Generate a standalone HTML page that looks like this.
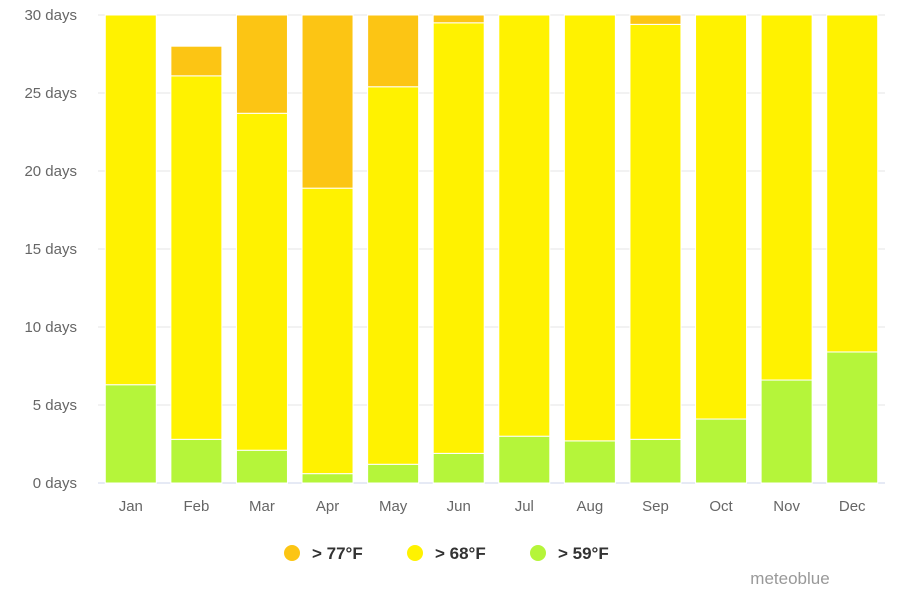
<!DOCTYPE html>
<html><head><meta charset="utf-8"><style>
body{margin:0;background:#fff;font-family:"Liberation Sans",sans-serif;}
</style></head><body>
<svg width="900" height="600" xmlns="http://www.w3.org/2000/svg" id="chart">
<g id="grid"></g>
<g id="bars"></g>
<g id="yaxis"></g>
<g id="xaxis"></g>
<g font-size="17" font-weight="bold" fill="#333">
 <g><circle cx="292" cy="553" r="8" fill="#fcc514"/><text x="312" y="559" fill="#333">&gt; 77°F</text></g>
 <g><circle cx="415" cy="553" r="8" fill="#fff200"/><text x="435" y="559" fill="#333">&gt; 68°F</text></g>
 <g><circle cx="538" cy="553" r="8" fill="#b5f53a"/><text x="558" y="559" fill="#333">&gt; 59°F</text></g>
</g>
<text x="790" y="584" font-size="17" fill="#999" text-anchor="middle">meteoblue</text>
</svg>
<script>
const categories=["Jan","Feb","Mar","Apr","May","Jun","Jul","Aug","Sep","Oct","Nov","Dec"];
const green=[6.3,2.8,2.1,0.6,1.2,1.9,3.0,2.7,2.8,4.1,6.6,8.4];
const yellow=[24.7,23.3,21.6,18.3,24.2,27.6,28.0,28.3,26.6,26.9,23.4,22.6];
const orange=[0,1.9,7.3,11.1,5.6,0.5,0,0,0.6,0,0,0];
const yTicks=[0,5,10,15,20,25,30];
const NS="http://www.w3.org/2000/svg";
const x0=98,x1=885,y0=483,yMax=30,yTop=15;
const band=(x1-x0)/categories.length,bw=51;
function y(v){return y0-(Math.min(v,yMax)/yMax)*(y0-yTop);}
function bx(i){return x0+band*i+(band-bw)/2;}
function mk(tag,attrs,parent){const e=document.createElementNS(NS,tag);for(const k in attrs)e.setAttribute(k,attrs[k]);parent.appendChild(e);return e;}
const grid=document.getElementById('grid'),bars=document.getElementById('bars'),ya=document.getElementById('yaxis'),xa=document.getElementById('xaxis');
yTicks.forEach(t=>{
 const l=mk('line',{x1:x0,x2:x1,y1:y(t),y2:y(t),stroke:t===0?'#ccd6eb':'#e6e6e6','stroke-width':1},grid);
 
 
 const tx=mk('text',{x:77,y:y(t)+5,'text-anchor':'end','font-size':15,fill:'#666'},ya);
 tx.textContent=t+' days';
 
 
});
categories.forEach((c,i)=>{
 const segs=[[green[i],'#b5f53a','green'],[yellow[i],'#fff200','yellow'],[orange[i],'#fcc514','orange']];
 let base=0;
 segs.forEach(s=>{
  if(s[0]<=0)return;
  const top=base+s[0];
  if(base<yMax){
   const r=mk('rect',{x:bx(i),y:y(top),width:bw,height:y(base)-y(top),fill:s[1],stroke:'#fff','stroke-width':1},bars);
   
   
  }
  base=top;
 });
 const t=mk('text',{x:bx(i)+bw/2,y:511,'text-anchor':'middle','font-size':15,fill:'#666'},xa);
 t.textContent=c;
 
 
});
</script>
</body></html>
